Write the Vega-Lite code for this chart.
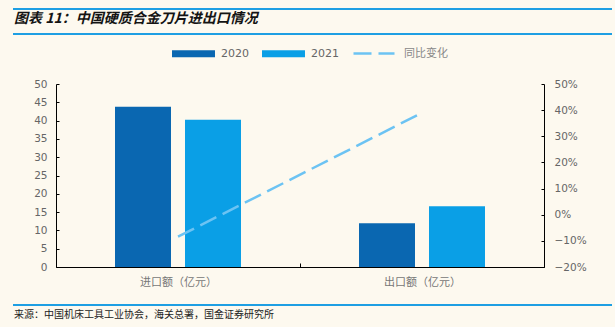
{
  "$schema": "https://vega.github.io/schema/vega-lite/v6.json",
  "background": "#FDF9EF",
  "padding": {"left": 13, "top": 8, "right": 5, "bottom": 9},
  "autosize": {"type": "pad"},
  "spacing": 12,
  "config": {
    "view": {"stroke": null},
    "font": "Noto Sans CJK SC",
    "axis": {"grid": false, "domainColor": "#000000", "tickColor": "#000000", "domainWidth": 1, "tickWidth": 1, "title": null}
  },
  "datasets": {
    "bars": [
      {"cat": "进口额（亿元）", "year": "2020", "value": 43.8},
      {"cat": "进口额（亿元）", "year": "2021", "value": 40.2},
      {"cat": "出口额（亿元）", "year": "2020", "value": 11.95},
      {"cat": "出口额（亿元）", "year": "2021", "value": 16.6}
    ],
    "yoy": [
      {"cat": "进口额（亿元）", "series": "同比变化", "yoy": -0.084},
      {"cat": "出口额（亿元）", "series": "同比变化", "yoy": 0.39}
    ],
    "blank": []
  },
  "resolve": {"legend": {"color": "independent", "stroke": "independent"}},
  "vconcat": [
    {
      "spacing": 5,
      "vconcat": [
        {
          "width": 597, "height": 0.01,
          "view": {"stroke": "#1E9FE3", "strokeWidth": 2},
          "title": {"text": "图表 11：中国硬质合金刀片进出口情况", "orient": "bottom", "anchor": "start", "fontSize": 14, "fontWeight": "bold", "fontStyle": "italic", "color": "#141414", "font": "Noto Sans CJK SC", "offset": 3},
          "data": {"name": "blank"},
          "mark": {"type": "text"},
          "encoding": {"text": {"field": "k"}}
        },
        {
          "width": 597, "height": 0.01,
          "view": {"stroke": "#1E9FE3", "strokeWidth": 2},
          "data": {"name": "blank"},
          "mark": {"type": "text"},
          "encoding": {"text": {"field": "k"}}
        }
      ]
    },
    {
      "spacing": 16,
      "resolve": {"legend": {"color": "independent", "stroke": "independent"}},
      "vconcat": [
        {
          "spacing": 0,
          "resolve": {"legend": {"color": "independent", "stroke": "independent"}},
          "hconcat": [
            {
              "width": 19, "height": 183,
              "data": {"name": "blank"},
              "mark": {"type": "text"},
              "encoding": {"text": {"field": "k"}}
            },
            {
              "width": 488, "height": 183,
              "layer": [
                {
                  "data": {"name": "bars"},
                  "mark": {"type": "bar"},
                  "encoding": {
                    "x": {"field": "cat", "type": "nominal", "sort": ["进口额（亿元）", "出口额（亿元）"],
                          "scale": {"paddingInner": 0, "paddingOuter": 0},
                          "axis": {"labelAngle": 0, "tickBand": "extent", "tickSize": -4, "labelPadding": 13.5, "labelColor": "#777777", "labelFontSize": 11, "labelFont": "Noto Sans CJK SC"}},
                    "xOffset": {"field": "year", "type": "nominal", "scale": {"paddingInner": 0.2, "paddingOuter": 0.843}},
                    "y": {"field": "value", "type": "quantitative", "scale": {"domain": [0, 50]},
                          "axis": {"values": [0, 5, 10, 15, 20, 25, 30, 35, 40, 45, 50], "tickSize": -3, "labelPadding": 12, "labelColor": "#666666", "labelFont": "DejaVu Sans", "labelFontSize": 10.5}},
                    "color": {"field": "year", "type": "nominal", "scale": {"domain": ["2020", "2021"], "range": ["#0A67B1", "#0A9FE6"]},
                              "legend": {"orient": "none", "legendX": 132, "legendY": -36, "direction": "horizontal", "title": null,
                                         "symbolType": "M-6.14,-1H6.14V1H-6.14Z", "symbolSize": 49, "symbolStrokeWidth": 0,
                                         "labelFont": "DejaVu Sans", "labelFontSize": 11, "labelColor": "#666666", "labelOffset": 22, "columnPadding": 13, "padding": 0}}
                  }
                },
                {
                  "data": {"name": "yoy"},
                  "mark": {"type": "line", "strokeDash": [18, 7], "strokeWidth": 2.5},
                  "encoding": {
                    "x": {"field": "cat", "type": "nominal", "sort": ["进口额（亿元）", "出口额（亿元）"]},
                    "y": {"field": "yoy", "type": "quantitative", "scale": {"domain": [-0.2, 0.5]},
                          "axis": {"orient": "right", "format": ".0%", "values": [-0.2, -0.1, 0, 0.1, 0.2, 0.3, 0.4, 0.5], "tickSize": -3, "labelPadding": 13, "labelColor": "#666666", "labelFont": "DejaVu Sans", "labelFontSize": 10.5}},
                    "stroke": {"field": "series", "type": "nominal", "scale": {"range": ["#6CC3F3"]},
                               "legend": {"orient": "none", "legendX": 312.5, "legendY": -36, "title": null,
                                          "symbolType": "M-10.25,0H10.25", "symbolSize": 16, "symbolStrokeWidth": 2.5, "symbolDash": [18, 7], "symbolFillColor": "transparent",
                                          "labelFont": "Noto Sans CJK SC", "labelFontSize": 11, "labelColor": "#888888", "labelOffset": 24.5, "padding": 0}}
                  }
                }
              ],
              "resolve": {"scale": {"y": "independent"}}
            }
          ]
        },
        {
          "width": 597, "height": 0.01,
          "view": {"stroke": "#1E9FE3", "strokeWidth": 2},
          "title": {"text": "来源：中国机床工具工业协会，海关总署，国金证券研究所", "orient": "bottom", "anchor": "start", "fontSize": 10, "fontWeight": "normal", "color": "#222222", "font": "Noto Sans CJK SC", "offset": 4.5},
          "data": {"name": "blank"},
          "mark": {"type": "text"},
          "encoding": {"text": {"field": "k"}}
        }
      ]
    }
  ]
}
